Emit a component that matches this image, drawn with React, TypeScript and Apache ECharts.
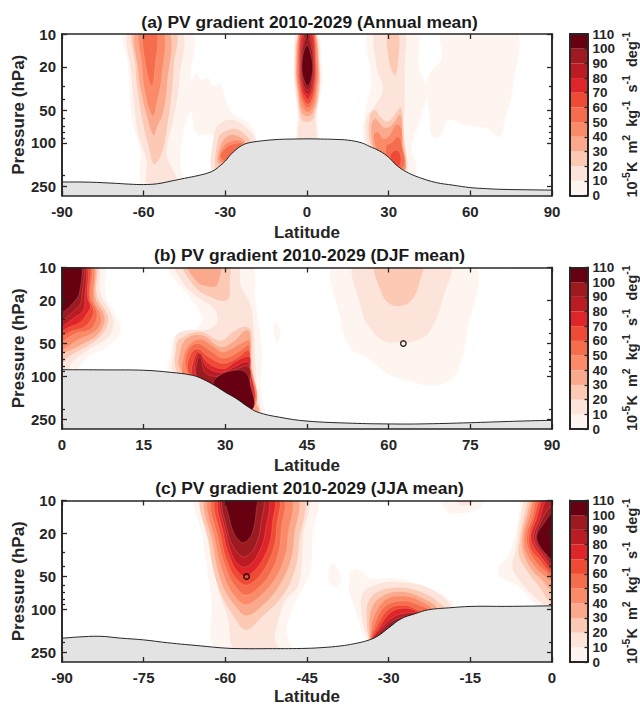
import React, { useEffect, useRef } from "react";
import * as echarts from "echarts";

type Pt = [number, number];
type Poly = [number, Pt[]];

const FONT = "Liberation Sans";
const INK = "#262626";
const levelColors = ["#FFF5F0", "#FDE4DA", "#FCC9B4", "#FBA98C", "#FB8A68", "#F66D4D", "#EF4A33", "#DF2529", "#BB1B22", "#9C1A20", "#670010"];
const colorbarTicks = [0, 10, 20, 30, 40, 50, 60, 70, 80, 90, 100, 110];
const majorPressure = [10, 20, 50, 100, 250];
const minorPressure = [30, 40, 60, 70, 80, 90, 200];
const topPressure = 10;
const bottomPressure = 305;
const titles = ["(a) PV gradient 2010-2029 (Annual mean)", "(b) PV gradient 2010-2029 (DJF mean)", "(c) PV gradient 2010-2029 (JJA mean)"];
const latitudeNameGaps = [28, 28, 26];

const terrainA: Pt[] = [[-90, 229], [-80, 230], [-70, 236], [-65, 240], [-60, 242], [-55, 238], [-50, 225], [-45, 212], [-40, 200], [-36, 188], [-34, 178], [-32, 163], [-30, 147], [-28, 128], [-26, 115], [-24, 106], [-22, 101], [-20, 98.5], [-15, 95], [-10, 93], [-5, 92.3], [0, 92], [5, 92.3], [10, 93], [15, 94.5], [20, 100], [23, 108], [26.7, 119], [30, 136], [32.8, 160], [36.5, 185], [41.4, 209], [47.5, 232], [53.6, 245], [60, 258], [66, 264], [72, 268], [80, 270], [90, 272]];
const terrainB: Pt[] = [[0, 87], [8, 87.3], [15, 88], [20, 92], [24, 98], [26, 107], [28, 121], [30, 140], [32, 160], [34, 188], [36, 214], [40, 238], [45, 258], [53.4, 270], [60, 274], [65.7, 274], [75, 267], [82, 260], [90, 254]];
const terrainC: Pt[] = [[-90, 184], [-87.3, 180], [-83, 177], [-79.3, 184], [-75, 191], [-70.6, 203], [-64.5, 217], [-60.2, 227], [-57, 230], [-52.2, 230], [-46, 229], [-42.3, 225], [-38.8, 217], [-36.3, 207], [-33.8, 193], [-32, 176], [-30, 148], [-27.7, 122], [-25.2, 110], [-22.7, 101], [-19, 97], [-14.7, 94], [-8.5, 94], [-4, 93.5], [0, 93]];

const contoursA: Poly[] = [
  [0, [[-66.5, 9], [-65.6, 20], [-64.4, 58], [-61.3, 117], [-60.1, 260], [-46, 260], [-46.6, 145], [-45.4, 82], [-42.7, 52], [-40.5, 82], [-34.4, 88], [-34.4, 192], [-27, 192], [-18.4, 109], [-18.4, 95], [-21.5, 66], [-27, 55], [-29.4, 43], [-31.9, 29], [-34.4, 30], [-36.2, 25.5], [-38.7, 26.5], [-40.5, 23], [-42.7, 27.5], [-43, 9]]],
  [1, [[-64.8, 9], [-64.4, 25], [-63.5, 45], [-62, 82], [-59, 145], [-58.3, 260], [-47, 260], [-47.5, 220], [-48.7, 190], [-51, 145], [-51.5, 110], [-49, 60], [-46.8, 25], [-46.6, 9]]],
  [2, [[-63.5, 9], [-63, 20], [-62.3, 32], [-60, 71], [-57.8, 117], [-56.5, 155], [-55, 150], [-53, 117], [-51.5, 75], [-50, 40], [-49, 20], [-48.8, 9]]],
  [2, [[-54.5, 250], [-53.8, 232], [-52.8, 232], [-52, 250]]],
  [3, [[-62.6, 9], [-62, 22], [-61, 33], [-59, 54], [-56.4, 85], [-55, 70], [-53, 54], [-51.5, 30], [-51, 9]]],
  [4, [[-61.1, 9], [-60.5, 20], [-59.5, 33], [-56.7, 56], [-55, 40], [-53.5, 25], [-53.1, 9]]],
  [5, [[-59.9, 9], [-59.5, 18], [-57, 30], [-55.8, 20], [-55.3, 9]]],
  [1, [[-34.3, 190], [-34.1, 82], [-31.9, 66], [-27, 62], [-22, 74], [-19, 95], [-24, 130]]],
  [2, [[-33.1, 180], [-32.5, 90], [-30, 78], [-25.8, 75], [-21.5, 90], [-20.9, 100], [-26, 130]]],
  [3, [[-32.5, 155], [-31.9, 109], [-29.4, 88], [-26.4, 85], [-22.7, 100], [-27, 140]]],
  [4, [[-32.1, 145], [-30.7, 109], [-28.2, 98], [-25.2, 95], [-23.3, 102], [-28, 150]]],
  [5, [[-31.9, 135], [-29.4, 109], [-25.8, 101], [-24, 103], [-28, 150]]],
  [0, [[-3.5, 9], [-5, 20], [-4.8, 30], [-3.5, 50], [-3.2, 100], [3.5, 100], [3.8, 50], [5.4, 30], [5.4, 20], [3.5, 9]]],
  [1, [[-3, 9], [-4.6, 20], [-4, 35], [-3, 60], [-2.8, 100], [3, 100], [3.2, 60], [4.6, 35], [4.9, 20], [3, 9]]],
  [2, [[-2.5, 9], [-4.3, 20], [-3.6, 35], [-2.5, 55], [-1.5, 63], [1.5, 63], [2.8, 55], [4.4, 35], [4.6, 20], [2.5, 9]]],
  [3, [[-2.2, 9], [-4, 20], [-3.2, 35], [-2, 52], [0, 57], [2.3, 52], [3.8, 35], [4.3, 20], [2.2, 9]]],
  [4, [[-2, 8], [-3.7, 20], [-2.9, 35], [-1.5, 48], [0.3, 52], [2, 48], [3.4, 35], [4, 20], [2, 8]]],
  [5, [[-1.8, 8], [-3.4, 20], [-2.6, 35], [-1, 45], [0.3, 48], [1.5, 45], [3, 35], [3.6, 20], [1.8, 8]]],
  [6, [[-1.6, 8], [-3.1, 19], [-2.3, 33], [-0.8, 42], [0.3, 44], [1.3, 42], [2.7, 33], [3.3, 19], [1.6, 8]]],
  [7, [[-1.3, 9], [-2.8, 19], [-2, 32], [-0.5, 38], [0.3, 40], [1, 38], [2.3, 32], [3, 19], [1.4, 9]]],
  [8, [[-1, 10], [-2.5, 19], [-1.7, 30], [0.3, 36], [2, 30], [2.7, 19], [1, 10]]],
  [9, [[-0.8, 11], [-2.2, 19], [-1.4, 29], [0.3, 33], [1.6, 29], [2.4, 19], [0.8, 11]]],
  [10, [[0.1, 12.7], [-1, 14], [-1.9, 20], [-1.2, 26], [0.3, 30], [1.5, 26], [2.1, 20], [1, 14]]],
  [0, [[23, 9], [23.6, 28], [21.8, 46], [20.6, 71], [21.2, 105], [24, 150], [35, 200], [40.2, 185], [38.3, 109], [39, 93], [41.7, 60], [43.9, 33], [41.1, 20], [39.8, 9]]],
  [0, [[50, 9], [49.4, 17], [45.1, 23], [43.8, 33], [45.1, 55], [45.7, 87], [48.8, 88], [51.8, 62], [58.6, 69], [65.9, 74], [70.8, 88], [72.6, 64], [75.7, 30], [76, 9]]],
  [1, [[25.5, 9], [25.5, 20], [27.9, 32], [24.9, 46], [21.8, 60], [21.5, 82], [22.4, 105], [27, 150], [36, 200], [37.1, 170], [35.9, 105], [35.5, 75], [35.9, 45], [35.9, 20], [35.3, 9]]],
  [2, [[29.8, 9], [30, 17], [32.2, 24], [33.4, 19], [33.4, 9]]],
  [2, [[23, 60], [22.6, 76], [23.6, 105], [27, 140], [35, 190], [36.5, 160], [35.7, 95], [35.2, 60], [34.4, 47], [33, 52], [29.5, 64], [27, 58], [25, 50], [23.5, 53]]],
  [3, [[23.6, 72], [24.9, 60], [26.5, 65], [28, 72], [30, 72], [32, 65], [34, 55], [34.7, 60], [35, 95], [36, 170], [30, 170], [25, 120]]],
  [4, [[24.6, 85], [26, 80], [28, 92], [30, 88], [33, 68], [34.7, 75], [35, 125], [36, 175], [30, 170], [26, 120]]],
  [5, [[29, 107], [31, 100], [33.5, 87], [35, 110], [35.5, 165], [30, 170]]],
  [6, [[30.5, 135], [32, 118], [33.8, 120], [34.5, 150], [33, 170]]],
];

const contoursB: Poly[] = [
  [0, [[-1, 9], [7.3, 9], [8, 18], [9.8, 27], [10.8, 35], [10.4, 43], [7.6, 56], [5.2, 64], [3, 84], [2, 95], [-1, 95]]],
  [1, [[-1, 9], [6.4, 9], [7, 17], [9.1, 27], [9.4, 35], [8.2, 45], [4.8, 57], [1.8, 75], [0.9, 90], [-1, 90]]],
  [2, [[-1, 9], [6, 9], [6.4, 18], [8.3, 27], [8.3, 34], [7, 43], [4.8, 52], [1.2, 66], [-1, 85]]],
  [3, [[-1, 9], [5.6, 9], [6.1, 19], [7.7, 27], [7.7, 33], [6.4, 42], [3.9, 50], [0, 62], [-1, 62]]],
  [4, [[-1, 9], [5.3, 9], [5.8, 20], [7, 27], [7, 33], [5.8, 39], [3.3, 45], [-1, 56]]],
  [5, [[-1, 9], [5, 9], [5.3, 19], [6.4, 26], [6, 33], [4.8, 38], [2.7, 40], [0, 48], [-1, 50]]],
  [6, [[-1, 9], [4.7, 9], [5, 19], [5.8, 25], [5.5, 29], [4.2, 35], [2.1, 38], [-1, 42]]],
  [7, [[-1, 9], [4.2, 9], [4.7, 19], [5.2, 23], [4.5, 27], [3.3, 32], [1.5, 35], [-1, 39]]],
  [8, [[-1, 9], [3.9, 9], [4.2, 20], [3.9, 25], [2.7, 28], [-1, 35]]],
  [9, [[-1, 9], [3.6, 9], [3.6, 19], [3.3, 22], [1.8, 26], [-1, 32]]],
  [10, [[-1, 9], [3.2, 9], [3.2, 17], [2.1, 21], [0, 26], [-1, 26]]],
  [0, [[19.6, 9], [20.5, 12.5], [23.6, 19], [25.4, 26], [25.7, 30], [24.8, 36], [20.8, 42], [19.9, 65], [19.6, 90], [25, 110], [36, 230], [37.2, 225], [36.5, 130], [36.7, 60], [36, 30], [35.5, 20], [34.3, 9]]],
  [1, [[20.8, 9], [22.3, 14], [24.8, 18.5], [27.9, 24], [28.5, 31], [26.9, 37], [22.9, 38], [21.1, 42], [20.5, 60], [20.5, 92], [25, 110], [36, 220], [36.5, 220], [35.8, 125], [35.5, 75], [35.2, 36], [34.6, 22], [32.8, 14.5], [32.1, 9]]],
  [2, [[22.3, 9], [23.9, 14], [26.6, 18], [30.3, 20], [30.8, 14], [30.3, 9]]],
  [3, [[23.1, 9], [24.8, 13.5], [27.2, 15], [28.5, 14.5], [28.8, 9]]],
  [2, [[21, 52], [21.7, 45], [25.4, 39], [29.1, 47], [31.5, 39], [33.4, 35], [34.7, 37.5], [34.9, 74], [35.8, 170], [36.2, 212], [30, 220], [25, 120], [21.2, 92]]],
  [3, [[21.7, 60], [22.9, 45], [25.7, 42], [29.1, 54], [31.5, 48], [33.7, 38], [34.5, 40], [34.6, 74], [35.5, 170], [36, 212], [30, 220], [25, 115], [21.7, 85]]],
  [4, [[22.3, 69], [23.3, 52], [25.4, 46], [27.9, 54], [29.7, 60], [32.9, 50], [34.4, 47], [34.6, 74], [35.5, 185], [30, 220], [25, 115], [22.3, 98]]],
  [5, [[22.9, 90], [23, 60], [24.8, 50], [27.2, 58], [29.7, 68], [32.8, 58], [34.3, 52], [34.5, 74], [35.3, 185], [30, 220], [25, 110]]],
  [6, [[23.2, 92], [23.4, 66], [24.8, 56], [26.9, 66], [29.7, 76], [32.1, 68], [34.3, 58], [34.5, 80], [35.2, 185], [30, 220], [25, 110]]],
  [7, [[23.9, 98], [24.2, 70], [25.1, 60], [26.9, 76], [29.7, 85], [32.1, 72], [34.4, 66], [34.6, 85], [35.1, 185], [30, 220], [25, 110]]],
  [8, [[24.5, 100], [24.5, 72], [25.4, 62], [26.6, 82], [29.4, 92], [32.1, 80], [34.1, 74], [34.6, 105], [34.9, 185], [30, 220], [25, 110]]],
  [9, [[24.8, 100], [24.7, 77], [25.4, 66], [26.3, 92], [28.5, 100], [31.5, 88], [34.3, 82], [34.6, 125], [34.8, 185], [30, 220]]],
  [10, [[27.8, 118], [29, 98], [31.8, 88], [33.7, 92], [34.6, 120], [35, 200], [30, 220]]],
  [0, [[39.2, 31.7], [40.1, 39], [39.5, 49], [38.9, 39]]],
  [0, [[50.5, 9], [51.3, 32], [53.1, 56], [55.9, 66], [60.2, 98], [63.6, 109], [67.5, 121], [71.2, 109], [72.8, 85], [74.3, 42], [75.2, 9]]],
  [1, [[54, 9], [55, 24], [56.2, 34], [59, 47], [62, 49], [65.1, 47], [67.5, 39], [70, 19], [70.9, 9]]],
  [2, [[57.7, 9], [58.6, 16.7], [60.2, 21.5], [62.3, 22.5], [64.2, 20], [65.7, 13.5], [66, 9]]],
];

const contoursC: Poly[] = [
  [0, [[-65.1, 9], [-64.2, 21], [-62.6, 77], [-61.4, 240], [-47.5, 240], [-47.9, 215], [-48.8, 155], [-48.5, 130], [-47.3, 88], [-44.8, 52], [-44.2, 41], [-44, 21], [-43.7, 9]]],
  [1, [[-64.2, 9], [-63, 21], [-61.4, 62], [-59.6, 118], [-58, 240], [-50.3, 240], [-50.9, 190], [-50.6, 148], [-49, 83], [-46.6, 60], [-45.7, 21], [-45.3, 9]]],
  [2, [[-63.8, 9], [-63, 25], [-61.3, 62], [-58.5, 115], [-56.2, 154], [-53.5, 120], [-49.5, 75], [-47.3, 45], [-46.5, 25], [-46.3, 9]]],
  [3, [[-63.1, 9], [-62.3, 25], [-60.5, 60], [-58, 95], [-56.1, 114], [-53.5, 95], [-50.5, 65], [-48.2, 38], [-47.4, 22], [-47.3, 9]]],
  [4, [[-62.5, 9], [-61.7, 25], [-60, 52], [-58, 78], [-56.2, 90], [-54, 78], [-51.2, 55], [-49.3, 35], [-48.6, 22], [-48.5, 9]]],
  [5, [[-62, 9], [-61.2, 24], [-59.5, 47], [-57.8, 65], [-56.2, 74], [-54, 64], [-51.8, 47], [-50.2, 30], [-49.8, 20], [-49.8, 9]]],
  [6, [[-61.4, 9], [-60.7, 23], [-59.2, 42], [-57.7, 54], [-56.2, 60], [-54.3, 53], [-52.5, 40], [-51, 26], [-50.6, 18], [-50.6, 9]]],
  [7, [[-60.8, 9], [-60.2, 22], [-58.8, 37], [-57.6, 46], [-56.4, 50], [-54.8, 45], [-53, 34], [-51.8, 24], [-51.4, 17], [-51.4, 9]]],
  [8, [[-60.5, 9], [-59.8, 21], [-58.6, 33], [-57.5, 39], [-56.5, 41], [-55.2, 38], [-53.7, 29], [-52.7, 20], [-52.5, 9]]],
  [9, [[-60.2, 9], [-59.5, 20], [-58.3, 28], [-57.2, 32], [-56.6, 33], [-55.5, 31], [-54.3, 25], [-53.5, 17], [-53.4, 9]]],
  [10, [[-59.7, 9], [-59.2, 15], [-58.2, 21], [-57.2, 24], [-56.8, 24.5], [-55.8, 23], [-54.9, 19], [-54.3, 12], [-54.3, 9]]],
  [0, [[-20.2, 9], [-19.3, 12.6], [-17.2, 13.2], [-13.5, 11.8], [-12.2, 9]]],
  [1, [[-17.8, 9], [-17, 10.8], [-15, 10.8], [-15, 9]]],
  [0, [[-5.4, 9], [-6, 13], [-7, 23], [-8.1, 33], [-9.8, 40], [-9.5, 50], [-6.1, 62], [-3, 90], [-1.5, 95], [1, 95], [1, 9]]],
  [1, [[-4.5, 9], [-5.7, 14], [-6.7, 29], [-7.3, 41], [-6, 54], [-3.6, 74], [-1.1, 92], [1, 95], [1, 9]]],
  [2, [[-3.6, 9], [-5.1, 14], [-6, 25], [-6, 33], [-4.2, 47], [-2.3, 62], [-0.4, 85], [1, 90], [1, 9]]],
  [3, [[-3, 9], [-4.7, 14.5], [-5.5, 23], [-5.1, 32], [-3.6, 44], [-1.8, 54], [0, 68], [1, 68], [1, 9]]],
  [4, [[-2.7, 9], [-4.2, 14.5], [-5.1, 22], [-4.7, 30], [-3, 41], [-1.4, 49], [0, 56], [1, 58], [1, 9]]],
  [5, [[-2.3, 9], [-3.7, 14.5], [-4.7, 21.5], [-4.2, 29], [-2.7, 38], [-1.1, 45.5], [0, 51], [1, 52], [1, 9]]],
  [6, [[-1.7, 9], [-3.4, 15], [-4.2, 21], [-3.9, 28], [-2.3, 35], [-1.1, 42], [0, 47], [1, 48], [1, 9]]],
  [7, [[-1.2, 9], [-2.9, 15], [-3.9, 21], [-3.4, 26.5], [-2, 33], [0, 44], [1, 44], [1, 9]]],
  [8, [[-0.7, 9], [-2.3, 15], [-3.4, 21], [-2.9, 26], [-1.6, 32], [0, 42], [1, 42], [1, 9]]],
  [9, [[1, 10.5], [-0.4, 11.5], [-1.7, 14.5], [-3, 21], [-2.6, 26], [-1.4, 31], [0, 39], [1, 39]]],
  [10, [[1, 13], [0, 13], [-1.4, 16], [-2.8, 21], [-2.3, 26], [-1.1, 31], [0, 35], [1, 35]]],
  [0, [[-40.3, 38], [-38.8, 50], [-39.4, 62], [-40.6, 60], [-41.1, 47]]],
  [0, [[-37.2, 54], [-36.9, 45], [-35.7, 43], [-33.2, 52], [-28.9, 52], [-24.6, 58], [-21.2, 69], [-19, 80], [-18, 97], [-25, 130], [-33, 210], [-34.4, 180], [-36.3, 95], [-37.2, 72]]],
  [1, [[-34.8, 72], [-32.6, 60], [-28.3, 56], [-23.3, 62], [-19.6, 80], [-18.7, 97], [-25, 130], [-33, 210], [-34.1, 168], [-35, 110]]],
  [2, [[-33.8, 88], [-32, 69], [-27.7, 63], [-23.3, 72], [-20.6, 88], [-19.9, 98], [-25, 130], [-33, 210], [-33.8, 165], [-34, 120]]],
  [3, [[-33.2, 102], [-31.4, 77], [-27.7, 69], [-23.6, 80], [-21.2, 99], [-25, 130], [-33, 200], [-33.5, 160]]],
  [4, [[-32.7, 118], [-30.7, 83], [-27.3, 76], [-24, 85], [-22.1, 102], [-25, 130], [-33, 200], [-33.2, 160]]],
  [5, [[-32.3, 127], [-30.4, 92], [-27, 84], [-24.3, 92], [-22.7, 103], [-26, 130], [-33, 190]]],
  [6, [[-31.9, 136], [-29.8, 98], [-27, 92], [-24.6, 102], [-24, 108], [-27, 130], [-33, 190]]],
  [7, [[-31.7, 146], [-29.5, 106], [-26.7, 98], [-24.6, 110], [-27.5, 130], [-33, 190]]],
  [8, [[-31.4, 150], [-29.2, 118], [-26.7, 108], [-25.2, 110], [-28, 135], [-33, 190]]],
  [9, [[-31.2, 155], [-29.2, 127], [-27, 118], [-28, 135], [-32.5, 190]]],
  [10, [[-31, 165], [-29.5, 137], [-28, 128], [-28.5, 135], [-32, 190]]],
];

const markerB: Pt[] = [[62.7, 50]];
const markerC: Pt[] = [[-56.1, 50]];

const panels = [
  { contours: contoursA, terrain: terrainA, markers: [] as Pt[], xMin: -90, xMax: 90, xStep: 30 },
  { contours: contoursB, terrain: terrainB, markers: markerB, xMin: 0, xMax: 90, xStep: 15 },
  { contours: contoursC, terrain: terrainC, markers: markerC, xMin: -90, xMax: 0, xStep: 15 },
];
const panelTops = [34, 267.5, 500.5];
const PANEL_H = 161.5;

const lg = (p: number) => Math.log10(p);

function buildOption() {
  const grid: any[] = [];
  const xAxis: any[] = [];
  const yAxis: any[] = [];
  const series: any[] = [];
  const title: any[] = [];
  const line = { show: true, onZero: false, lineStyle: { color: INK, width: 1.6 } };
  const barLine = { show: true, onZero: false, lineStyle: { color: INK, width: 2 } };
  const tickStyle = { color: INK, width: 1.3 };

  panels.forEach((pn, i) => {
    grid.push({ left: 62, width: 490, top: panelTops[i], height: PANEL_H, outerBoundsMode: "none" });
    title.push({
      text: titles[i], left: 304.5, top: panelTops[i] - 26, textAlign: "center",
      textStyle: { fontFamily: FONT, fontWeight: "bold", fontSize: 17.4, color: "#1a1a1a" },
    });
    const xBase = { type: "value", gridIndex: i, min: pn.xMin, max: pn.xMax, interval: pn.xStep, splitLine: { show: false }, axisLine: line, z: 10 };
    const xi = xAxis.length;
    xAxis.push({
      ...xBase, position: "bottom",
      axisTick: { inside: true, length: 5, lineStyle: tickStyle },
      axisLabel: { margin: 8, fontFamily: FONT, fontWeight: "bold", fontSize: 15, color: INK, showMinLabel: true, showMaxLabel: true },
      name: "Latitude", nameLocation: "middle", nameGap: latitudeNameGaps[i], nameMoveOverlap: false,
      nameTextStyle: { fontFamily: FONT, fontWeight: "bold", fontSize: 17, color: INK },
    });
    xAxis.push({ ...xBase, position: "top", axisTick: { inside: true, length: 5, lineStyle: tickStyle }, axisLabel: { show: false } });

    const yBase = { type: "value", gridIndex: i, inverse: true, min: lg(topPressure), max: lg(bottomPressure), splitLine: { show: false }, axisLine: line, z: 10 };
    const yi = yAxis.length;
    const majorVals = majorPressure.map(lg);
    const minorVals = minorPressure.map(lg);
    yAxis.push({
      ...yBase, position: "left",
      axisTick: { inside: true, length: 5, lineStyle: tickStyle, customValues: majorVals },
      axisLabel: {
        customValues: majorVals, margin: 6, fontFamily: FONT, fontWeight: "bold", fontSize: 15, color: INK,
        formatter: (v: number) => String(Math.round(Math.pow(10, v))),
      },
      name: "Pressure (hPa)", nameLocation: "middle", nameGap: 35, nameRotate: 90, nameMoveOverlap: false,
      nameTextStyle: { fontFamily: FONT, fontWeight: "bold", fontSize: 17, color: INK },
    });
    yAxis.push({ ...yBase, position: "left", axisTick: { inside: true, length: 3, lineStyle: tickStyle, customValues: minorVals }, axisLabel: { show: false, customValues: minorVals } });
    yAxis.push({ ...yBase, position: "right", axisTick: { inside: true, length: 5, lineStyle: tickStyle, customValues: majorVals }, axisLabel: { show: false, customValues: majorVals } });
    yAxis.push({ ...yBase, position: "right", axisTick: { inside: true, length: 3, lineStyle: tickStyle, customValues: minorVals }, axisLabel: { show: false, customValues: minorVals } });

    series.push({
      type: "custom", xAxisIndex: xi, yAxisIndex: yi, clip: true, silent: true, z: 2,
      encode: { x: 0, y: 1 },
      data: pn.contours.map((c) => [c[1][0][0], lg(c[1][0][1])]),
      renderItem: (params: any, api: any) => {
        const [level, pts] = pn.contours[params.dataIndex];
        return {
          type: "polygon",
          shape: { points: pts.map(([la, p]) => api.coord([la, lg(p)])), smooth: 0.4 },
          style: { fill: levelColors[level], stroke: level >= 5 ? "rgba(255,225,215,0.35)" : "none", lineWidth: 0.5 },
        };
      },
    });
    const t = pn.terrain;
    const terrainOutline: Pt[] = [
      [pn.xMin - 6, t[0][1]], ...t, [pn.xMax + 6, t[t.length - 1][1]],
      [pn.xMax + 12, 900], [pn.xMin - 12, 900],
    ];
    series.push({
      type: "custom", xAxisIndex: xi, yAxisIndex: yi, clip: true, silent: true, z: 3,
      encode: { x: 0, y: 1 },
      data: [[t[0][0], lg(t[0][1])]],
      renderItem: (_p: any, api: any) => ({
        type: "polygon",
        shape: { points: terrainOutline.map(([la, p]) => api.coord([la, lg(p)])), smooth: 0.4 },
        style: { fill: "#E3E3E3", stroke: "#111111", lineWidth: 0.9 },
      }),
    });
    if (pn.markers.length) {
      series.push({
        type: "scatter", xAxisIndex: xi, yAxisIndex: yi, silent: true, z: 5,
        symbol: "circle", symbolSize: 5.5,
        itemStyle: { color: "transparent", borderColor: "#000000", borderWidth: 1.5 },
        data: pn.markers.map(([la, p]) => [la, lg(p)]),
      });
    }
  });

  panels.forEach((_, i) => {
    const gi = grid.length;
    grid.push({ left: 570, width: 17.5, top: panelTops[i], height: PANEL_H, outerBoundsMode: "none" });
    const xi = xAxis.length;
    xAxis.push({ type: "value", gridIndex: gi, min: 0, max: 1, show: false });
    const yi = yAxis.length;
    const yb = { type: "value", gridIndex: gi, min: 0, max: 110, interval: 10, splitLine: { show: false }, axisLine: barLine, z: 10 };
    yAxis.push({ ...yb, position: "left", axisTick: { show: false }, axisLabel: { show: false } });
    yAxis.push({
      ...yb, position: "right",
      axisTick: { inside: true, length: 3, lineStyle: tickStyle },
      axisLabel: { margin: 5, fontFamily: FONT, fontWeight: "bold", fontSize: 13.5, color: INK },
      name: "{n|10}{s|-5}{n|K  m}{s|2}{n|  kg}{s|-1}{n|  s}{s|-1}{n|  deg}{s|-1}",
      nameLocation: "middle", nameRotate: 90, nameGap: 33,
      nameTextStyle: {
        rich: {
          n: { fontFamily: FONT, fontWeight: "bold", fontSize: 14.5, color: INK, verticalAlign: "bottom", lineHeight: 19 },
          s: { fontFamily: FONT, fontWeight: "bold", fontSize: 10.5, color: INK, verticalAlign: "top", lineHeight: 11 },
        },
      },
    });
    xAxis.push({ type: "value", gridIndex: gi, min: 0, max: 1, position: "top", axisLine: barLine, axisTick: { show: false }, axisLabel: { show: false }, splitLine: { show: false }, z: 10 });
    xAxis.push({ type: "value", gridIndex: gi, min: 0, max: 1, position: "bottom", axisLine: barLine, axisTick: { show: false }, axisLabel: { show: false }, splitLine: { show: false }, z: 10 });
    series.push({
      type: "custom", xAxisIndex: xi, yAxisIndex: yi, silent: true, z: 2,
      encode: { x: 0, y: 1 },
      data: levelColors.map((_c, k) => [0, colorbarTicks[k]]),
      renderItem: (params: any, api: any) => {
        const k = params.dataIndex;
        const a = api.coord([0, colorbarTicks[k]]);
        const b = api.coord([1, colorbarTicks[k + 1]]);
        return {
          type: "rect",
          shape: { x: a[0], y: b[1], width: b[0] - a[0], height: a[1] - b[1] },
          style: { fill: levelColors[k] },
        };
      },
    });
  });

  return { animation: false, backgroundColor: "#ffffff", title, grid, xAxis, yAxis, series };
}

export default function App() {
  const ref = useRef<HTMLDivElement>(null);
  useEffect(() => {
    if (!ref.current) return;
    const chart = echarts.init(ref.current, undefined, { renderer: "svg" });
    chart.setOption(buildOption() as any);
    return () => chart.dispose();
  }, []);
  return <div ref={ref} style={{ position: "absolute", left: 0, top: 0, width: 640, height: 705 }} />;
}
